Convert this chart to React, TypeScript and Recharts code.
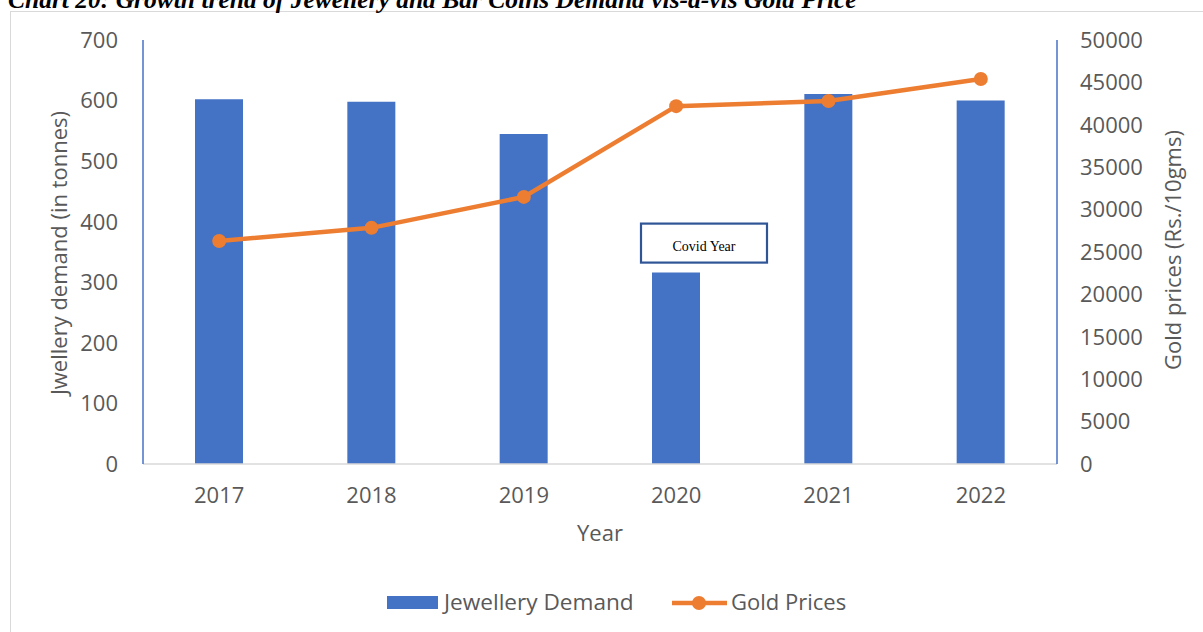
import React from 'react';
import { ComposedChart, Bar, Line, XAxis, YAxis } from 'recharts';

const years = ['2017', '2018', '2019', '2020', '2021', '2022'];
const jewelleryDemand = [602, 598, 545, 316, 611, 600];
const goldPrices = [26300, 27850, 31500, 42200, 42800, 45400];
const leftTicks = [0, 100, 200, 300, 400, 500, 600, 700];
const rightTicks = [0, 5000, 10000, 15000, 20000, 25000, 30000, 35000, 40000, 45000, 50000];
const covidLabel = 'Covid Year';
const covidIndex = 3;

const data = years.map((y, i) => ({ year: y, demand: jewelleryDemand[i], price: goldPrices[i] }));

const FONT = '"Open Sans", sans-serif';
const GRAY = '#595959';
const BLUE = '#4472C4';
const ORANGE = '#ED7D31';

const CovidLabel = (props: any) => {
  const { x, y, index } = props;
  if (index !== covidIndex) return null;
  const bx = x - 11;
  const by = y - 49;
  return (
    <g>
      <rect x={bx} y={by} width={126} height={39} fill="#fff" stroke="#2F5597" strokeWidth={2.2} />
      <text
        x={bx + 63}
        y={by + 27}
        textAnchor="middle"
        fontFamily='"Liberation Serif", "Times New Roman", serif'
        fontSize={14}
        fill="#000"
      >
        {covidLabel}
      </text>
    </g>
  );
};

export default function App() {
  const tickStyle = { fontFamily: FONT, fontSize: 22, fill: GRAY };
  return (
    <div style={{ position: 'absolute', left: 0, top: 0, width: 1203, height: 632, overflow: 'hidden', background: '#fff' }}>
      <div
        style={{
          position: 'absolute',
          left: 10,
          top: 11,
          width: 1300,
          height: 800,
          border: '1.5px solid #d9d9d9',
          boxSizing: 'border-box',
        }}
      />
      <div style={{ position: 'absolute', left: 0, top: 0 }}>
        <ComposedChart width={1203} height={632} data={data} margin={{ top: 40, right: 66, bottom: 98, left: 63 }}>
          <XAxis
            dataKey="year"
            height={70}
            tickLine={false}
            tickSize={6}
            tickMargin={17}
            axisLine={{ stroke: '#d9d9d9', strokeWidth: 1.5 }}
            tick={tickStyle}
          />
          <YAxis
            yAxisId="left"
            orientation="left"
            width={80}
            domain={[0, 700]}
            ticks={leftTicks}
            tickLine={false}
            tickSize={6}
            tickMargin={19}
            axisLine={{ stroke: BLUE, strokeWidth: 1.5 }}
            tick={tickStyle}
            interval={0}
          />
          <YAxis
            yAxisId="right"
            orientation="right"
            width={80}
            domain={[0, 50000]}
            ticks={rightTicks}
            tickLine={false}
            tickSize={6}
            tickMargin={17}
            axisLine={{ stroke: BLUE, strokeWidth: 1.5 }}
            tick={tickStyle}
            interval={0}
          />
          <Bar
            yAxisId="left"
            dataKey="demand"
            fill={BLUE}
            barSize={48}
            isAnimationActive={false}
            label={<CovidLabel />}
          />
          <Line
            yAxisId="right"
            dataKey="price"
            stroke={ORANGE}
            strokeWidth={4.5}
            dot={{ r: 7, fill: ORANGE, stroke: ORANGE, strokeWidth: 0 }}
            activeDot={false}
            isAnimationActive={false}
          />
        </ComposedChart>
      </div>
      <svg width={1203} height={632} style={{ position: 'absolute', left: 0, top: 0, pointerEvents: 'none' }}>
        <text
          x={8}
          y={8}
          fontFamily='"Liberation Serif", "Times New Roman", serif'
          fontWeight="bold"
          fontStyle="italic"
          fontSize={25.5}
          fill="#000"
        >
          Chart 20: Growth trend of Jewellery and Bar Coins Demand vis-à-vis Gold Price
        </text>
        <text
          x={58}
          y={253}
          transform="rotate(-90 58 253)"
          textAnchor="middle"
          dominantBaseline="central"
          fontFamily={FONT}
          fontSize={22}
          fill={GRAY}
        >
          Jwellery demand (in tonnes)
        </text>
        <text
          x={1172}
          y={250}
          transform="rotate(-90 1172 250)"
          textAnchor="middle"
          dominantBaseline="central"
          fontFamily={FONT}
          fontSize={22}
          fill={GRAY}
        >
          Gold prices (Rs./10gms)
        </text>
        <text x={600} y={541} textAnchor="middle" fontFamily={FONT} fontSize={22} fill={GRAY}>
          Year
        </text>
        <rect x={387} y={596} width={51} height={13} fill={BLUE} />
        <text x={444} y={610} fontFamily={FONT} fontSize={22.6} fill={GRAY}>
          Jewellery Demand
        </text>
        <line x1={672} y1={603} x2={727} y2={603} stroke={ORANGE} strokeWidth={4.5} />
        <circle cx={699} cy={603} r={7} fill={ORANGE} />
        <text x={731} y={610} fontFamily={FONT} fontSize={22} fill={GRAY}>
          Gold Prices
        </text>
      </svg>
    </div>
  );
}
